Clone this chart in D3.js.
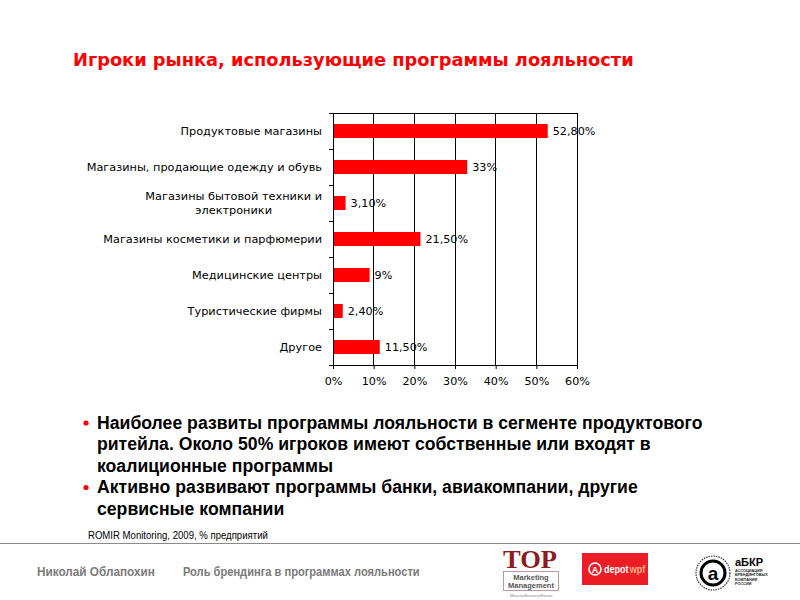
<!DOCTYPE html>
<html><head><meta charset="utf-8">
<script src="https://cdn.jsdelivr.net/npm/d3@7"></script>
<style>body{margin:0;background:#fff}svg{display:block}</style>
</head><body>
<svg id="c" width="800" height="600"></svg>
<script>
const categories = ["Продуктовые магазины","Магазины, продающие одежду и обувь","Магазины бытовой техники и\nэлектроники","Магазины косметики и парфюмерии","Медицинские центры","Туристические фирмы","Другое"];
const values = [52.8, 33, 3.1, 21.5, 9, 2.4, 11.5];
const valueLabels = ["52,80%","33%","3,10%","21,50%","9%","2,40%","11,50%"];
const xTicks = [0,10,20,30,40,50,60];
const title = "Игроки рынка, использующие программы лояльности";
const bullets = [
  ["Наиболее развиты программы лояльности в сегменте продуктового","ритейла. Около 50% игроков имеют собственные или входят в","коалиционные программы"],
  ["Активно развивают программы банки, авиакомпании, другие","сервисные компании"]
];
const source = "ROMIR Monitoring, 2009, % предприятий";
const footer = ["Николай Облапохин","Роль брендинга в программах лояльности"];

const svg = d3.select("#c");
const F = "DejaVu Sans, Verdana, sans-serif";
const N = "Liberation Sans Narrow, Liberation Sans, Arial, sans-serif";

function fitScale(t, x0, w){
  const nw = t.node().getComputedTextLength();
  const s = w/nw;
  t.attr("transform",`translate(${x0*(1-s)},0) scale(${s},1)`);
  return s;
}

svg.append("text").attr("x",73).attr("y",66).attr("fill","#ff0000")
  .attr("font-family",F).attr("font-weight","bold").attr("font-size",17.8).text(title);

const L=333,R=577,T=113,B=365;
const x = d3.scaleLinear().domain([0,60]).range([L,R]);
const y = d3.scaleBand().domain(categories).range([T,B]).paddingInner(0.61).paddingOuter(0.305);
const step = y.step();

const g = svg.append("g");
g.selectAll("line.grid").data(xTicks.slice(1)).join("line")
  .attr("x1",d=>x(d)).attr("x2",d=>x(d)).attr("y1",T).attr("y2",B)
  .attr("stroke","#000").attr("stroke-width",1).attr("shape-rendering","crispEdges");
g.append("line").attr("x1",L-4).attr("x2",R).attr("y1",T).attr("y2",T).attr("stroke","#000").attr("shape-rendering","crispEdges");
g.selectAll("rect.bar").data(values).join("rect")
  .attr("x",x(0)).attr("y",(d,i)=>y(categories[i])).attr("width",d=>x(d)-x(0)).attr("height",y.bandwidth())
  .attr("fill","#ff0000");
g.append("line").attr("x1",L).attr("x2",L).attr("y1",T).attr("y2",B+4).attr("stroke","#000").attr("shape-rendering","crispEdges");
g.selectAll("line.lt").data(d3.range(categories.length+1)).join("line")
  .attr("x1",L-4).attr("x2",L).attr("y1",i=>T+i*step).attr("y2",i=>T+i*step)
  .attr("stroke","#000").attr("shape-rendering","crispEdges");
const xa = d3.axisBottom(x).tickValues(xTicks).tickFormat(d=>d+"%").tickSizeInner(4).tickSizeOuter(0).tickPadding(8);
const ax = svg.append("g").attr("transform",`translate(0,${B})`).call(xa);
ax.select(".domain").attr("stroke","#000");
ax.selectAll("line").attr("stroke","#000");
ax.selectAll("text").attr("font-family",F).attr("font-size",11.2).attr("fill","#000");
g.selectAll("text.val").data(values).join("text")
  .attr("x",d=>x(d)+5).attr("y",(d,i)=>y(categories[i])+y.bandwidth()/2+4)
  .attr("font-family",F).attr("font-size",11.2).attr("fill","#000").text((d,i)=>valueLabels[i]);
categories.forEach((c,i)=>{
  const lines = c.split("\n");
  const cy = y(c)+y.bandwidth()/2;
  if(lines.length===1){
    g.append("text").attr("x",322).attr("y",cy+4).attr("text-anchor","end")
      .attr("font-family",F).attr("font-size",11.3).attr("fill","#000").text(c);
  } else {
    const t0 = g.append("text").attr("font-family",F).attr("font-size",11.3).text(lines[0]);
    const w = t0.node().getComputedTextLength(); t0.remove();
    const cx = 322 - w/2;
    lines.forEach((ln,k)=>{
      g.append("text").attr("x",cx).attr("y",cy+4+(k-(lines.length-1)/2)*14).attr("text-anchor","middle")
        .attr("font-family",F).attr("font-size",11.3).attr("fill","#000").text(ln);
    });
  }
});

// bullets
const bg = svg.append("g");
let by = 429;
const bl = [];
bullets.forEach(b=>{
  bg.append("circle").attr("cx",86).attr("cy",by-6).attr("r",2.6).attr("fill","#ff0000");
  b.forEach(ln=>{
    const t = bg.append("text").attr("x",97).attr("y",by).attr("font-family",N).attr("font-weight","bold")
      .attr("font-size",17.5).attr("fill","#000").text(ln);
    bl.push(t);
    by += 21.5;
  });
});
const sc = 606/bl[0].node().getComputedTextLength();
bl.forEach(t=>t.attr("transform",`translate(${97*(1-sc)},0) scale(${sc},1)`));

// source
const st = svg.append("text").attr("x",88).attr("y",539).attr("font-family",N)
  .attr("font-size",11.5).attr("fill","#000").text(source);
fitScale(st, 88, 180);
svg.append("line").attr("x1",0).attr("x2",800).attr("y1",543.5).attr("y2",543.5).attr("stroke","#8a8a8a").attr("stroke-width",1.2);

// footer
const f1 = svg.append("text").attr("x",37).attr("y",576).attr("font-family",N)
  .attr("font-weight","bold").attr("font-size",13).attr("fill","#7a7a7a").text(footer[0]);
fitScale(f1, 37, 118);
const f2 = svg.append("text").attr("x",183).attr("y",576).attr("font-family",N)
  .attr("font-weight","bold").attr("font-size",13).attr("fill","#7a7a7a").text(footer[1]);
fitScale(f2, 183, 237);

// logos
const lg = svg.append("g");
lg.append("text").attr("x",530).attr("y",568).attr("text-anchor","middle").attr("font-family","Liberation Serif, Times New Roman, serif")
  .attr("font-weight","bold").attr("font-size",26).attr("fill","#8b1c22").attr("textLength",54).attr("lengthAdjust","spacingAndGlyphs").text("TOP");
lg.append("rect").attr("x",503.5).attr("y",571.5).attr("width",55).attr("height",19).attr("fill","#fff").attr("stroke","#b08080").attr("stroke-width",0.8);
lg.append("text").attr("x",531).attr("y",580).attr("text-anchor","middle").attr("font-family","Liberation Sans, Arial").attr("font-weight","bold").attr("font-size",7.5).attr("fill","#555").text("Marketing");
lg.append("text").attr("x",531).attr("y",588).attr("text-anchor","middle").attr("font-family","Liberation Sans, Arial").attr("font-weight","bold").attr("font-size",7.5).attr("fill","#555").text("Management");
lg.append("text").attr("x",531).attr("y",597).attr("text-anchor","middle").attr("font-family","Liberation Sans, Arial").attr("font-size",4).attr("fill","#888").text("MoscowBusinessForum");

lg.append("rect").attr("x",582).attr("y",553).attr("width",66).attr("height",32).attr("fill","#ee1c25");
lg.append("circle").attr("cx",595).attr("cy",569).attr("r",6).attr("fill","none").attr("stroke","#fff").attr("stroke-width",1.6);
lg.append("text").attr("x",595).attr("y",572.5).attr("text-anchor","middle").attr("font-family","Liberation Sans, Arial").attr("font-weight","bold").attr("font-size",9).attr("fill","#fff").text("A");
const dw = lg.append("text").attr("x",604).attr("y",573).attr("font-family","Liberation Sans, Arial").attr("font-weight","bold").attr("font-size",10.5);
dw.append("tspan").attr("fill","#fff").text("depot");
dw.append("tspan").attr("fill","#ffb38a").attr("dx",1.5).text("wpf");
fitScale(dw, 604, 40);

lg.append("circle").attr("cx",713).attr("cy",573).attr("r",17).attr("fill","none").attr("stroke","#333").attr("stroke-width",1.2).attr("stroke-dasharray","1.5,1");
lg.append("circle").attr("cx",713).attr("cy",573).attr("r",12).attr("fill","none").attr("stroke","#000").attr("stroke-width",3);
lg.append("text").attr("x",713).attr("y",580).attr("text-anchor","middle").attr("font-family","Liberation Sans, Arial").attr("font-weight","bold").attr("font-size",19).attr("fill","#000").text("а");
lg.append("text").attr("x",735).attr("y",566).attr("font-family","Liberation Sans, Arial").attr("font-weight","bold").attr("font-size",11).attr("fill","#000").text("аБКР");
["АССОЦИАЦИЯ","БРЕНДИНГОВЫХ","КОМПАНИЙ","РОССИИ"].forEach((s,i)=>{
  lg.append("text").attr("x",735).attr("y",572+i*4.3).attr("font-family","Liberation Sans, Arial").attr("font-weight","bold").attr("font-size",3.8).attr("fill","#222").text(s);
});
</script>
</body></html>
